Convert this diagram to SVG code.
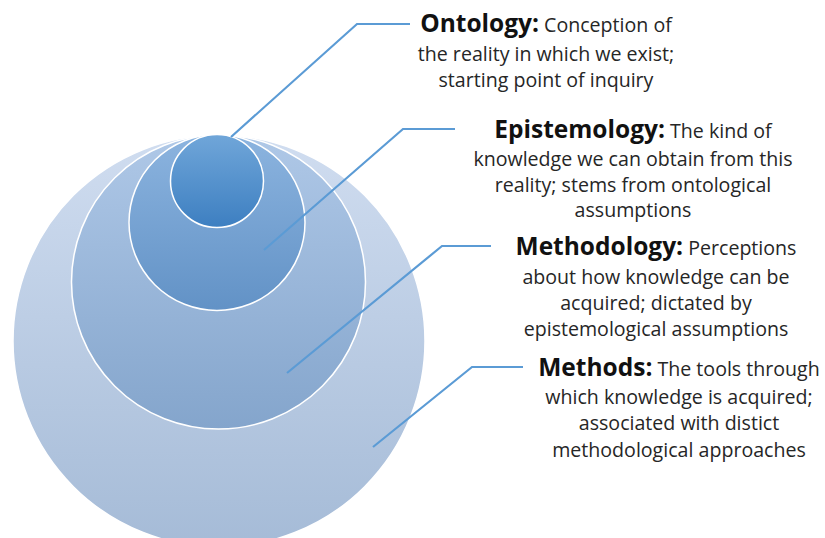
<svg xmlns="http://www.w3.org/2000/svg" width="825" height="538" viewBox="0 0 825 538">
  <style>
    .ring { stroke: #ffffff; stroke-width: 1.5; }
    .conn { fill: none; stroke: #5b9bd5; stroke-width: 2.2; stroke-linejoin: miter; }
    .lbl { font-family: "Open Sans", "Noto Sans", "Liberation Sans", sans-serif; font-size: 19.6px; fill: #262626; text-anchor: middle; }
    .ttl { font-weight: bold; font-size: 24.5px; fill: #111111; }
  </style>
  <defs>
    <linearGradient id="gMethods" x1="0" y1="0" x2="0" y2="1">
      <stop offset="0" stop-color="#d0ddf0"/>
      <stop offset="1" stop-color="#a5bbd7"/>
    </linearGradient>
    <linearGradient id="gMethodology" x1="0" y1="0" x2="0" y2="1">
      <stop offset="0" stop-color="#afc8e7"/>
      <stop offset="1" stop-color="#84a5cc"/>
    </linearGradient>
    <linearGradient id="gEpistemology" x1="0" y1="0" x2="0" y2="1">
      <stop offset="0" stop-color="#8cb4df"/>
      <stop offset="1" stop-color="#6292c6"/>
    </linearGradient>
    <linearGradient id="gOntology" x1="0" y1="0" x2="0" y2="1">
      <stop offset="0" stop-color="#70a6d9"/>
      <stop offset="1" stop-color="#3d7fc1"/>
    </linearGradient>
  </defs>

  <!-- nested circles, all touching at the top -->
  <g id="methods">
    <circle class="ring" cx="219" cy="341" r="206" fill="url(#gMethods)"/>
  </g>
  <g id="methodology">
    <circle class="ring" cx="218.5" cy="282" r="147" fill="url(#gMethodology)"/>
  </g>
  <g id="epistemology">
    <circle class="ring" cx="217" cy="222.5" r="88" fill="url(#gEpistemology)"/>
  </g>
  <g id="ontology">
    <circle class="ring" cx="217" cy="181" r="46.5" fill="url(#gOntology)"/>
  </g>

  <!-- leader lines from each circle to its label -->
  <g id="connectors">
    <polyline class="conn" points="231,137 357,24 410,24"/>
    <polyline class="conn" points="264,250 403,129 455,129"/>
    <polyline class="conn" points="287,373 442,246 491,246"/>
    <polyline class="conn" points="373,447 472,367 523,367"/>
  </g>

  <!-- labels -->
  <g id="ontology-label">
    <text class="lbl" x="546" y="32"><tspan class="ttl">Ontology:</tspan> Conception of</text>
    <text class="lbl" x="546" y="61">the reality in which we exist;</text>
    <text class="lbl" x="546" y="87">starting point of inquiry</text>
  </g>
  <g id="epistemology-label">
    <text class="lbl" x="633" y="138"><tspan class="ttl">Epistemology:</tspan> The kind of</text>
    <text class="lbl" x="633" y="166">knowledge we can obtain from this</text>
    <text class="lbl" x="633" y="192">reality; stems from ontological</text>
    <text class="lbl" x="633" y="217">assumptions</text>
  </g>
  <g id="methodology-label">
    <text class="lbl" x="656" y="255"><tspan class="ttl">Methodology:</tspan> Perceptions</text>
    <text class="lbl" x="656" y="284">about how knowledge can be</text>
    <text class="lbl" x="656" y="310">acquired; dictated by</text>
    <text class="lbl" x="656" y="336">epistemological assumptions</text>
  </g>
  <g id="methods-label">
    <text class="lbl" x="679" y="376"><tspan class="ttl">Methods:</tspan> The tools through</text>
    <text class="lbl" x="679" y="404">which knowledge is acquired;</text>
    <text class="lbl" x="679" y="430">associated with distict</text>
    <text class="lbl" x="679" y="457">methodological approaches</text>
  </g>
</svg>
